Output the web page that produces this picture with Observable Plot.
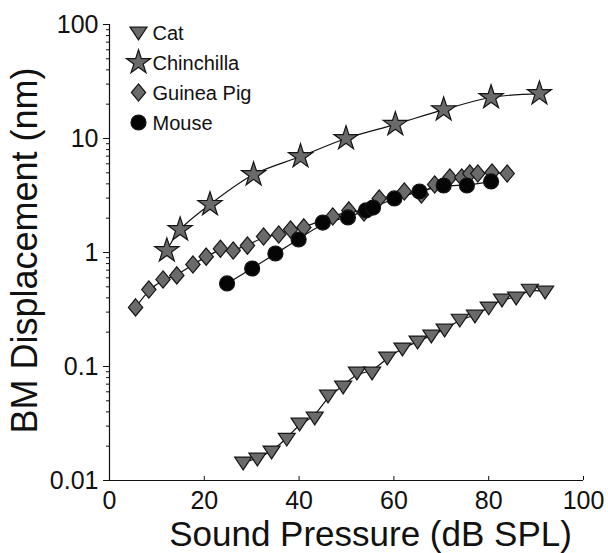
<!DOCTYPE html>
<html><head><meta charset="utf-8">
<script src="https://cdn.jsdelivr.net/npm/d3@7"></script>
<script src="https://cdn.jsdelivr.net/npm/@observablehq/plot@0.6"></script>
<style>
html,body{margin:0;padding:0;background:#fff;}
</style></head><body><div id="chart"></div>
<script>
const species = ["Cat", "Chinchilla", "Guinea Pig", "Mouse"];

const catX = [28.2,31.2,34.2,37.4,40.1,43.3,46.1,49.3,52.2,55.4,58.6,61.8,65.0,67.9,70.7,73.9,77.1,80.0,82.8,85.8,88.7,91.9];
const catY = [0.0144,0.0156,0.0180,0.0233,0.0316,0.0357,0.0557,0.0668,0.0886,0.0886,0.120,0.144,0.166,0.187,0.211,0.258,0.280,0.330,0.387,0.403,0.473,0.455];

const chinX = [12.1,14.9,21.2,30.4,40.3,49.9,60.3,70.5,80.5,90.7];
const chinY = [1.04,1.59,2.64,4.83,6.95,10.0,13.3,17.9,22.9,24.8];

const gpX = [5.5,8.3,11.3,14.2,17.6,20.4,23.4,26.1,29.1,32.5,35.7,38.2,41.0,47.1,50.5,53.7,56.9,62.2,65.8,68.6,71.8,74.3,76.0,77.7,80.7,83.9];
const gpY = [0.33,0.473,0.58,0.63,0.785,0.92,1.08,1.04,1.15,1.38,1.44,1.59,1.66,2.07,2.34,2.24,2.98,3.43,3.23,3.95,4.55,4.55,4.93,4.93,5.03,4.93];

const mouseX = [24.8,30.1,35.0,39.9,45.0,50.3,54.1,55.6,60.1,65.4,70.5,75.4,80.5];
const mouseY = [0.535,0.724,0.98,1.30,1.83,2.03,2.34,2.48,2.98,3.43,3.87,3.87,4.2];

const xTicks = [0, 20, 40, 60, 80, 100];
const yTicks = [0.01, 0.1, 1, 10, 100];
const yTickLabels = ["0.01", "0.1", "1", "10", "100"];
const yMinor = yTicks.slice(0, -1).flatMap(d => [2,3,4,5,6,7,8,9].map(k => d * k));

const xTitle = "Sound Pressure (dB SPL)";
const yTitle = "BM Displacement (nm)";

const rows = (xs, ys) => xs.map((x, i) => ({x, y: ys[i]}));
const cat = rows(catX, catY);
const chin = rows(chinX, chinY);
const gp = rows(gpX, gpY);
const mouse = rows(mouseX, mouseY);

const triDown = {draw(ctx, size) {
  const r = Math.sqrt(size / Math.PI), a = r * 1.15;
  ctx.moveTo(-a, -r * 0.72); ctx.lineTo(a, -r * 0.72); ctx.lineTo(0, r * 1.0); ctx.closePath();
}};
const diamond = {draw(ctx, size) {
  const r = Math.sqrt(size / Math.PI), w = r * 0.98, h = r * 1.18;
  ctx.moveTo(0, -h); ctx.lineTo(w, 0); ctx.lineTo(0, h); ctx.lineTo(-w, 0); ctx.closePath();
}};

const W = 608, H = 553, mT = 24, mB = 73, mL = 109, mR = 25;
const innerH = H - mT - mB;
const gray = "#6a6a6a", edge = "#151515";

const styles = [
  {symbol: triDown, r: 7.4, fill: gray},
  {symbol: d3.symbolStar, r: 7.6, fill: gray},
  {symbol: diamond, r: 7.3, fill: gray},
  {symbol: "circle", r: 7.5, fill: "#050505"}
];

const legendMarks = species.flatMap((name, i) => [
  Plot.dot([name], {x: null, y: null, frameAnchor: "top-left", dx: 29, dy: 8 + i * 30,
    symbol: styles[i].symbol, r: styles[i].r, fill: styles[i].fill, stroke: edge, strokeWidth: 1.2}),
  Plot.text([name], {frameAnchor: "top-left", dx: 43, dy: 9 + i * 30, textAnchor: "start",
    lineAnchor: "middle", fontSize: 20, fill: "#111"})
]);

const series = [cat, chin, gp, mouse];
const lineMarks = series.map((d, i) => Plot.line(d, {x: "x", y: "y",
  curve: i === 1 ? "catmull-rom" : "basis", stroke: "#111", strokeWidth: 1.2}));
const dotMarks = series.map((d, i) => Plot.dot(d, {x: "x", y: "y",
  symbol: styles[i].symbol, r: styles[i].r, fill: styles[i].fill, stroke: edge, strokeWidth: 1.2}));

const chart = Plot.plot({
  width: W, height: H,
  marginTop: mT, marginBottom: mB, marginLeft: mL, marginRight: mR,
  style: {fontFamily: "'Liberation Sans', Arial, sans-serif", color: "#111", background: "#fff"},
  x: {domain: [0, 100], label: null},
  y: {type: "log", domain: [0.01, 100], label: null},
  marks: [
    Plot.axisX({ticks: xTicks, tickSize: 0, tickPadding: 11, fontSize: 25, label: null, tickFormat: d => String(d)}),
    Plot.axisY({ticks: yTicks, tickSize: 6, tickPadding: 5, fontSize: 25, label: null,
      tickFormat: d => yTickLabels[yTicks.indexOf(d)]}),
    Plot.axisY({ticks: yMinor, tickSize: 3, label: null, tickFormat: () => ""}),
    Plot.tickX(xTicks, {x: d => d, insetTop: innerH - 4, stroke: "#111"}),
    Plot.ruleX([0], {stroke: "#111", strokeWidth: 1.2}),
    Plot.ruleY([0.01], {stroke: "#111", strokeWidth: 1.2}),
    ...lineMarks,
    ...dotMarks,
    ...legendMarks,
    Plot.text([xTitle], {frameAnchor: "bottom", dx: 24, dy: 54, textAnchor: "middle", lineAnchor: "middle", fontSize: 35, fill: "#111"}),
    Plot.text([yTitle], {frameAnchor: "left", dx: -84, dy: -2, rotate: -90, textAnchor: "middle", lineAnchor: "middle", fontSize: 36, fill: "#111"})
  ]
});
document.getElementById("chart").appendChild(chart);
</script>
</body></html>
